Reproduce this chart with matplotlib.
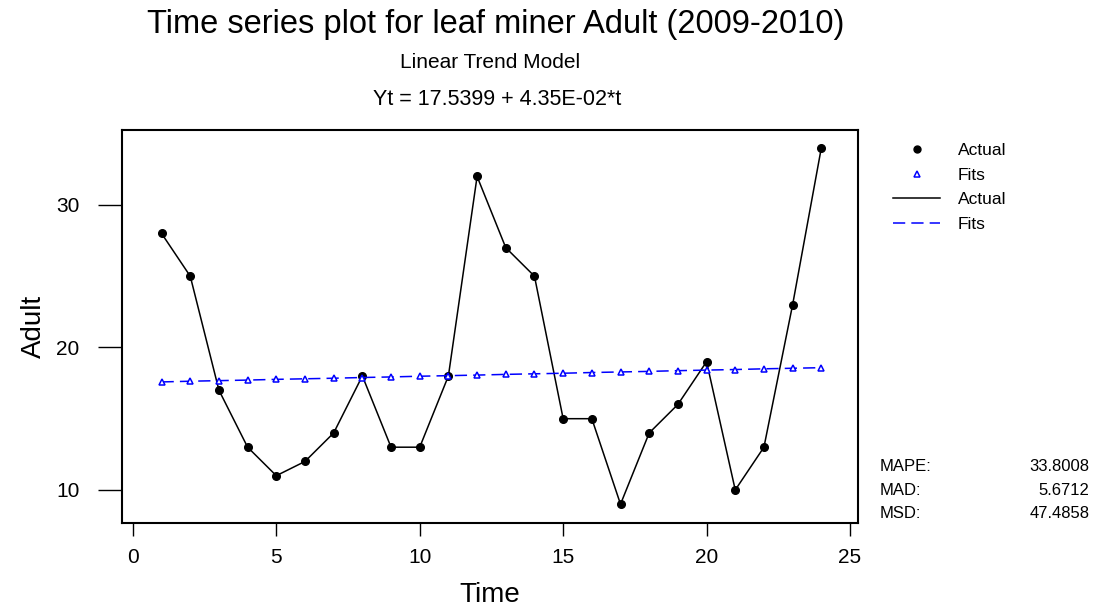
import matplotlib
matplotlib.use("Agg")
import matplotlib.pyplot as plt
from matplotlib.lines import Line2D

plt.rcParams['font.family'] = ['Liberation Sans', 'DejaVu Sans']

time = list(range(1, 25))
actual = [28, 25, 17, 13, 11, 12, 14, 18, 13, 13, 18, 32, 27, 25, 15, 15, 9, 14, 16, 19, 10, 13, 23, 34]
fits = [17.58, 17.63, 17.67, 17.71, 17.76, 17.80, 17.84, 17.89, 17.93, 17.98, 18.02, 18.06,
        18.11, 18.15, 18.19, 18.24, 18.28, 18.32, 18.37, 18.41, 18.45, 18.50, 18.54, 18.58]
x_ticks = [0, 5, 10, 15, 20, 25]
y_ticks = [10, 20, 30]
stat_names = ["MAPE:", "MAD:", "MSD:"]
stat_values = ["33.8008", "5.6712", "47.4858"]

fig = plt.figure(figsize=(10.94, 6.08), dpi=100)
ax = fig.add_axes([0.1115, 0.1398, 0.6728, 0.6464])

ax.plot(time, actual, color='black', lw=1.1, marker='o', ms=5.5, mfc='black', mec='black')
ax.plot(time, fits, color='blue', lw=1.1, ls=(0, (8, 4)), marker='^', ms=5, mfc='white', mec='blue', mew=1.1)

ax.set_xlim(-0.38, 25.28)
ax.set_ylim(7.68, 35.26)
ax.set_xticks(x_ticks)
ax.set_yticks(y_ticks)
ax.tick_params(axis='x', direction='out', length=9.5, width=1.0, labelsize=15, pad=8.5)
ax.tick_params(axis='y', direction='out', length=17, width=1.0, labelsize=15, pad=13.5)
for s in ax.spines.values():
    s.set_linewidth(1.5)

ax.set_xlabel("Time", fontsize=20, labelpad=11)
ax.set_ylabel("Adult", fontsize=20, labelpad=7)

fig.text(0.453, 0.960, "Time series plot for leaf miner Adult (2009-2010)", fontsize=23.5, ha='center', va='center')
fig.text(0.448, 0.898, "Linear Trend Model", fontsize=15, ha='center', va='center')
fig.text(0.454, 0.836, "Yt = 17.5399 + 4.35E-02*t", fontsize=15.5, ha='center', va='center')

handles = [
    Line2D([], [], color='black', marker='o', ls='none', ms=5),
    Line2D([], [], color='blue', marker='^', ls='none', ms=4, mfc='white', mew=1.1),
    Line2D([], [], color='black', lw=1.1),
    Line2D([], [], color='blue', lw=1.1, ls=(0, (8, 4))),
]
fig.legend(handles, ["Actual", "Fits", "Actual", "Fits"], loc='upper left',
           bbox_to_anchor=(0.816, 0.765), frameon=False, fontsize=12.5,
           borderpad=0, borderaxespad=0,
           handlelength=2.75, handletextpad=1.0, labelspacing=0.55)

for i, (n, v) in enumerate(zip(stat_names, stat_values)):
    y = 0.232 - i * 0.038
    fig.text(0.804, y, n, fontsize=12, ha='left', va='center')
    fig.text(0.996, y, v, fontsize=12, ha='right', va='center')

fig.savefig("out.png", dpi=100)
